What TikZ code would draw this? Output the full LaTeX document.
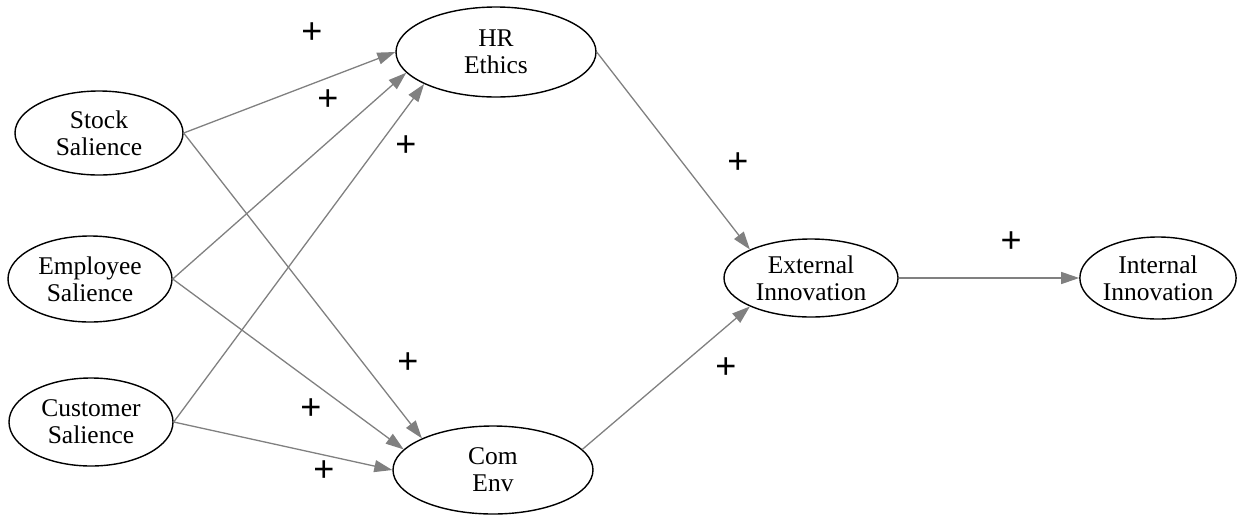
\documentclass[tikz,border=0pt]{standalone}
\usepackage{fontspec}
\setmainfont{Liberation Serif}
\setsansfont{Liberation Sans}
\usetikzlibrary{arrows.meta}
\usetikzlibrary{shapes.geometric}

\begin{document}
\begin{tikzpicture}[x=1pt, y=-1pt, >={Triangle[length=18pt, width=12pt]},
        var/.style={ellipse, draw, line width=1.4pt, inner sep=0pt, align=center,
            font=\fontsize{25.5}{27}\selectfont},
        link/.style={->, draw=gray, line width=1.3pt},
        sign/.style={inner sep=0pt, font=\sffamily\fontsize{36}{36}\selectfont}]
        \useasboundingbox (0,0) rectangle (1239,517);

        % constructs
        \node[var, minimum width=168pt, minimum height=84pt] (stock) at (99,133) {Stock\\Salience};
        \node[var, minimum width=164pt, minimum height=86pt] (employee) at (90,279) {Employee\\Salience};
        \node[var, minimum width=164pt, minimum height=88pt] (customer) at (91,422) {Customer\\Salience};
        \node[var, minimum width=200pt, minimum height=90pt] (hr) at (496,52) {HR\\Ethics};
        \node[var, minimum width=200pt, minimum height=88pt] (com) at (493,470) {Com\\Env};
        \node[var, minimum width=174pt, minimum height=78pt] (ext) at (811,278) {External\\Innovation};
        \node[var, minimum width=156pt, minimum height=82pt] (int) at (1158,278) {Internal\\Innovation};

        % paths
        \draw[link] (stock.east) -- (hr.west);
        \draw[link] (employee.east) -- (hr.193);
        \draw[link] (customer.east) -- (hr.204);
        \draw[link] (stock.east) -- (com.156);
        \draw[link] (employee.east) -- (com.167);
        \draw[link] (customer.east) -- (com.west);
        \draw[link] (hr.east) -- (ext.155);
        \draw[link] (com.13) -- (ext.205);
        \draw[link] (ext.east) -- (int.west);

        % signs
        \node[sign] (s1) at (312,33) {+};
        \node[sign] (s2) at (328,100) {+};
        \node[sign] (s3) at (406,146) {+};
        \node[sign] (s4) at (408,363) {+};
        \node[sign] (s5) at (311,409) {+};
        \node[sign] (s6) at (324,471) {+};
        \node[sign] (s7) at (738,163) {+};
        \node[sign] (s8) at (726,368) {+};
        \node[sign] (s9) at (1011,242) {+};

    \end{tikzpicture}
\end{document}
